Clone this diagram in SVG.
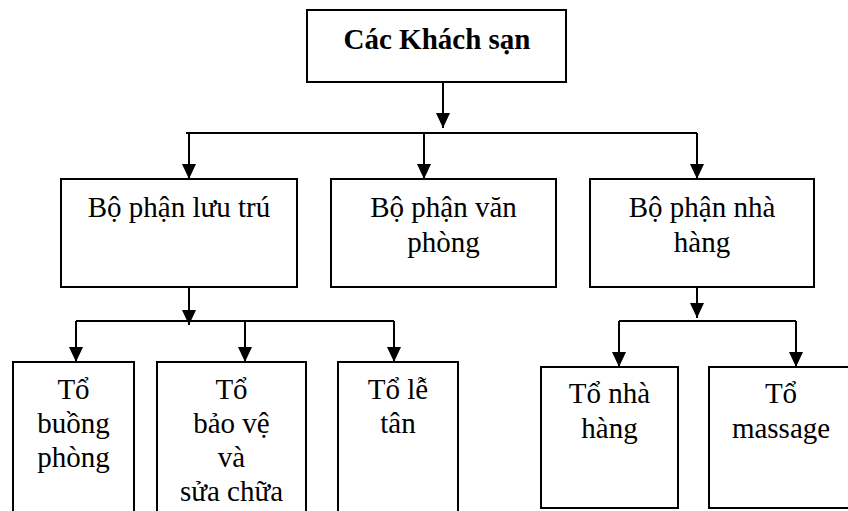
<svg xmlns="http://www.w3.org/2000/svg" width="848" height="511" viewBox="0 0 848 511">
  <style>
    .box { fill: #fff; stroke: #000; stroke-width: 2; }
    .lbl { font-family: "Liberation Serif", "Times New Roman", serif; font-size: 29px; fill: #000; text-anchor: middle; }
    .ttl { font-weight: bold; }
    .wire { fill: none; stroke: #000; stroke-width: 2; }
  </style>
  <defs>
    <marker id="arrow" viewBox="0 0 15 14" refX="15" refY="7" markerWidth="15" markerHeight="14" markerUnits="userSpaceOnUse" orient="auto">
      <path d="M0,0 L15,7 L0,14 Z" fill="#000"/>
    </marker>
  </defs>
  <rect width="848" height="511" fill="#fff"/>

  <!-- connectors -->
  <g id="connectors">
    <path class="wire" d="M443,82 V128" marker-end="url(#arrow)"/>
    <line class="wire" x1="186" y1="133" x2="697" y2="133"/>
    <path class="wire" d="M189,133 V179" marker-end="url(#arrow)"/>
    <path class="wire" d="M424,133 V179" marker-end="url(#arrow)"/>
    <path class="wire" d="M697,133 V179" marker-end="url(#arrow)"/>

    <path class="wire" d="M189,287 V325" marker-end="url(#arrow)"/>
    <line class="wire" x1="76" y1="321" x2="394" y2="321"/>
    <path class="wire" d="M76,321 V362" marker-end="url(#arrow)"/>
    <path class="wire" d="M245,321 V362" marker-end="url(#arrow)"/>
    <path class="wire" d="M394,321 V362" marker-end="url(#arrow)"/>

    <path class="wire" d="M697,287 V318" marker-end="url(#arrow)"/>
    <line class="wire" x1="619" y1="321" x2="796" y2="321"/>
    <path class="wire" d="M619,321 V367" marker-end="url(#arrow)"/>
    <path class="wire" d="M796,321 V367" marker-end="url(#arrow)"/>
  </g>

  <!-- top node -->
  <g id="khach-san">
    <rect class="box" x="307" y="10" width="259" height="72"/>
    <text class="lbl ttl" x="437" y="49">Các Khách sạn</text>
  </g>

  <!-- departments -->
  <g id="luu-tru">
    <rect class="box" x="61" y="179" width="236" height="108"/>
    <text class="lbl" x="179" y="217">Bộ phận lưu trú</text>
  </g>
  <g id="van-phong">
    <rect class="box" x="331" y="179" width="225" height="108"/>
    <text class="lbl" x="443.5" y="217">Bộ phận văn</text>
    <text class="lbl" x="443.5" y="252">phòng</text>
  </g>
  <g id="nha-hang">
    <rect class="box" x="590" y="179" width="224" height="108"/>
    <text class="lbl" x="702" y="217">Bộ phận nhà</text>
    <text class="lbl" x="702" y="252">hàng</text>
  </g>

  <!-- teams -->
  <g id="buong-phong">
    <rect class="box" x="13" y="362" width="121" height="160"/>
    <text class="lbl" x="73.5" y="399">Tổ</text>
    <text class="lbl" x="73.5" y="433">buồng</text>
    <text class="lbl" x="73.5" y="467">phòng</text>
  </g>
  <g id="bao-ve">
    <rect class="box" x="157" y="362" width="149" height="160"/>
    <text class="lbl" x="231.5" y="399">Tổ</text>
    <text class="lbl" x="231.5" y="433">bảo vệ</text>
    <text class="lbl" x="231.5" y="467">và</text>
    <text class="lbl" x="231.5" y="501">sửa chữa</text>
  </g>
  <g id="le-tan">
    <rect class="box" x="338" y="362" width="120" height="160"/>
    <text class="lbl" x="398" y="399">Tổ lễ</text>
    <text class="lbl" x="398" y="433">tân</text>
  </g>
  <g id="to-nha-hang">
    <rect class="box" x="541" y="367" width="137" height="141"/>
    <text class="lbl" x="609.5" y="403">Tổ nhà</text>
    <text class="lbl" x="609.5" y="438">hàng</text>
  </g>
  <g id="massage">
    <rect class="box" x="709" y="367" width="150" height="141"/>
    <text class="lbl" x="781" y="403">Tổ</text>
    <text class="lbl" x="781" y="438">massage</text>
  </g>
</svg>
